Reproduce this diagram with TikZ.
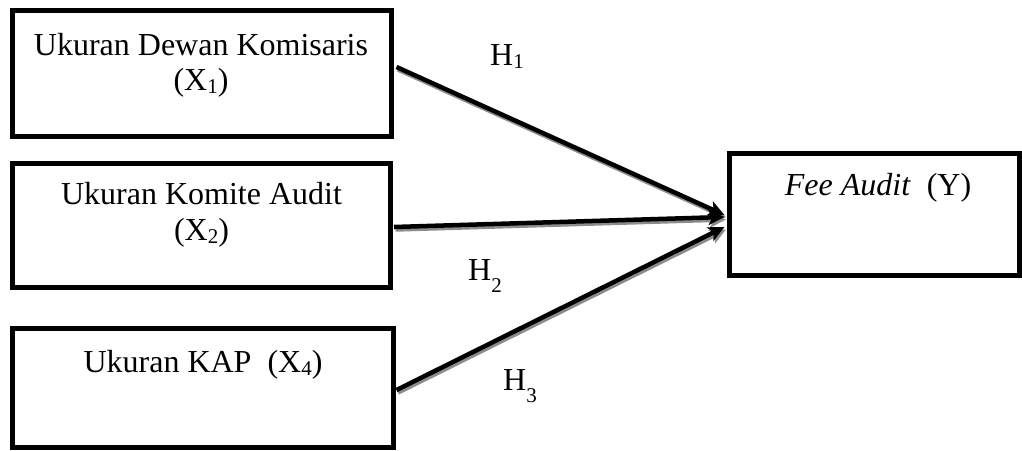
\documentclass[tikz,border=0pt]{standalone}
\usepackage{fontspec}
\setmainfont{Liberation Serif}
\usetikzlibrary{arrows.meta,calc}
\newcommand{\sbx}[1]{\raisebox{-0.12em}{\fontsize{21}{21}\selectfont #1}}
\newcommand{\sbh}[1]{\raisebox{-0.38em}{\fontsize{21}{21}\selectfont #1}}
\begin{document}
\begin{tikzpicture}[x=1pt,y=-1pt,
  box/.style={draw=black,line width=5pt,rectangle,inner sep=0pt},
  lbl/.style={inner sep=0pt,align=center,font=\fontsize{32}{36.5}\selectfont,anchor=base},
  hlab/.style={inner sep=0pt,font=\fontsize{32}{36}\selectfont,anchor=base west},
  arr/.style={line width=4.5pt,-{Stealth[length=16pt,width=15pt,inset=4pt]}},
  shd/.style={line width=4.5pt,draw=black!45,-{Stealth[length=16pt,width=15pt,inset=4pt]}}]
\useasboundingbox (0,0) rectangle (1022,450);
% boxes
\node[box,minimum width=379pt,minimum height=126pt] (x1) at (201.5,73) {};
\node[box,minimum width=378pt,minimum height=124pt] (x2) at (201.5,225) {};
\node[box,minimum width=381pt,minimum height=119pt] (x4) at (202.5,387.5) {};
\node[box,minimum width=290pt,minimum height=122pt] (y) at (874,214) {};
% box texts
\node[lbl] (x1a) at (201,55) {Ukuran Dewan Komisaris};
\node[lbl] (x1b) at (201,90) {(X\sbx{1})};
\node[lbl] (x2a) at (201.5,204) {Ukuran Komite Audit};
\node[lbl] (x2b) at (201.5,240) {(X\sbx{2})};
\node[lbl] (x4a) at (203,372) {Ukuran KAP\ \ (X\sbx{4})};
\node[lbl] (ya) at (878,195) {\textit{Fee Audit}\ \ (Y)};
% end points
\coordinate (s1) at ($(x1.east)+(3,-6)$);
\coordinate (s2) at ($(x2.east)+(1,2)$);
\coordinate (s4) at ($(x4.east)+(1,2.5)$);
\coordinate (e1) at ($(y.west)+(-2,1)$);
\coordinate (e2) at ($(y.west)+(-2,3)$);
\coordinate (e4) at ($(y.west)+(-2,13)$);
% shadows
\draw[shd] ($(s1)+(1.5,2.5)$) -- ($(e1)+(1.5,2.5)$);
\draw[shd] ($(s2)+(1.5,2.5)$) -- ($(e2)+(1.5,2.5)$);
\draw[shd] ($(s4)+(1.5,2.5)$) -- ($(e4)+(1.5,2.5)$);
% arrows
\draw[arr] (s1) -- (e1);
\draw[arr] (s2) -- (e2);
\draw[arr] (s4) -- (e4);
% hypothesis labels
\node[hlab] (h1) at (490,65) {H\sbx{1}};
\node[hlab] (h2) at (468,280) {H\sbh{2}};
\node[hlab] (h3) at (503,390) {H\sbh{3}};
\end{tikzpicture}
\end{document}
